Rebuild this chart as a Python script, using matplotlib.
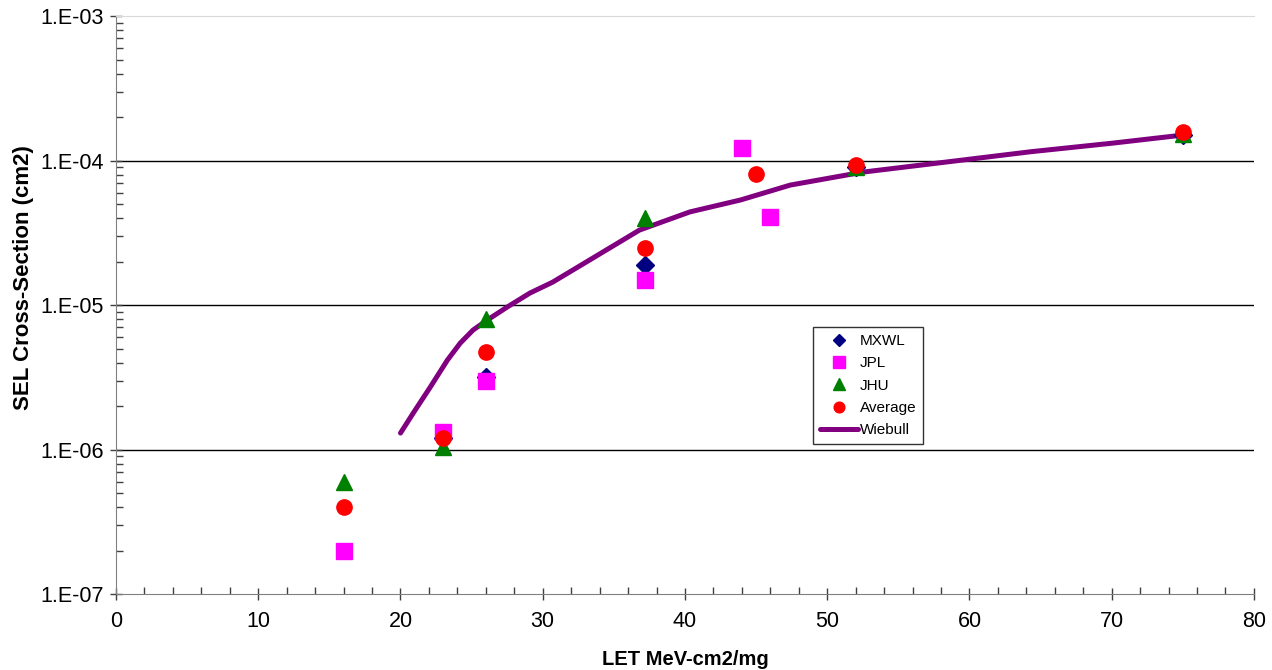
import numpy as np
import matplotlib
matplotlib.use("Agg")
import matplotlib.pyplot as plt
from matplotlib.ticker import FixedLocator, LogLocator, FuncFormatter, NullFormatter

plt.rcParams["font.family"] = ["Liberation Sans", "DejaVu Sans"]

# ---- data ------------------------------------------------------------------
mxwl_let = [23, 26, 37.2, 52, 75]
mxwl_xs = [1.2e-6, 3.2e-6, 1.9e-5, 9.0e-5, 1.5e-4]

jpl_let = [16, 23, 26, 37.2, 44, 46]
jpl_xs = [2.0e-7, 1.32e-6, 3.0e-6, 1.5e-5, 1.22e-4, 4.05e-5]

jhu_let = [16, 23, 26, 37.2, 52, 75]
jhu_xs = [5.95e-7, 1.04e-6, 8.0e-6, 4.0e-5, 9.0e-5, 1.52e-4]

avg_let = [16, 23, 26, 37.2, 45, 52, 75]
avg_xs = [4.0e-7, 1.2e-6, 4.75e-6, 2.48e-5, 8.07e-5, 9.3e-5, 1.57e-4]

wb_let = [20.0, 20.9, 22.1, 23.3, 24.2, 25.1, 26.1, 27.5, 29.1, 30.7,
          33.3, 36.8, 40.35, 43.9, 47.4, 52.5, 58.4, 64.3, 70.1, 75.0]
wb_xs = [1.30e-6, 1.79e-6, 2.71e-6, 4.16e-6, 5.45e-6, 6.71e-6, 7.87e-6,
         9.68e-6, 1.21e-5, 1.44e-5, 2.05e-5, 3.30e-5, 4.41e-5, 5.33e-5,
         6.76e-5, 8.31e-5, 9.77e-5, 1.15e-4, 1.32e-4, 1.50e-4]

# ---- figure ----------------------------------------------------------------
fig = plt.figure(figsize=(12.72, 6.70), dpi=100)
ax = fig.add_axes([0.0912, 0.1134, 0.8946, 0.8627])

ax.plot(wb_let, wb_xs, color="#800080", lw=3.6, solid_capstyle="round",
        solid_joinstyle="round", label="Wiebull", zorder=2)
ax.plot(mxwl_let, mxwl_xs, "D", color="#000080", ms=9, ls="none",
        label="MXWL", zorder=3)
ax.plot(jpl_let, jpl_xs, "s", color="#ff00ff", ms=12, ls="none",
        label="JPL", zorder=4)
ax.plot(jhu_let, jhu_xs, "^", color="#008000", ms=12, ls="none",
        label="JHU", zorder=5)
ax.plot(avg_let, avg_xs, "o", color="#ff0000", ms=11, ls="none",
        label="Average", zorder=6)

ax.set_yscale("log")
ax.set_xlim(0, 80)
ax.set_ylim(1e-7, 1e-3)

# gridlines
for yv in (1e-6, 1e-5, 1e-4):
    ax.axhline(yv, color="black", lw=1.0, zorder=1)

ax.spines["right"].set_visible(False)
ax.spines["top"].set_color("#d9d9d9")
ax.spines["left"].set_color("#808080")
ax.spines["bottom"].set_color("#808080")

ax.xaxis.set_major_locator(FixedLocator(np.arange(0, 81, 10)))
ax.xaxis.set_minor_locator(FixedLocator(np.arange(0, 81, 2)))
ax.yaxis.set_major_locator(LogLocator(base=10, numticks=10))
ax.yaxis.set_minor_locator(LogLocator(base=10, subs=np.arange(2, 10), numticks=20))
ax.yaxis.set_minor_formatter(NullFormatter())
ax.yaxis.set_major_formatter(FuncFormatter(lambda v, p: "1.E%+03d" % int(round(np.log10(v)))))

ax.tick_params(axis="both", which="major", direction="inout", length=9,
               width=1, color="#404040", labelsize=15.5, labelcolor="black")
ax.tick_params(axis="x", which="major", pad=8)
ax.tick_params(axis="y", which="major", pad=4)
ax.tick_params(axis="both", which="minor", direction="in", length=5,
               width=1, color="#404040")

ax.set_xlabel("LET MeV-cm2/mg", fontsize=14.5, fontweight="bold", labelpad=13)
ax.set_ylabel("SEL Cross-Section (cm2)", fontsize=16, fontweight="bold")
ax.yaxis.set_label_coords(-0.072, 0.548)

handles, labels = ax.get_legend_handles_labels()
order = [1, 2, 3, 4, 0]
leg = ax.legend([handles[i] for i in order], [labels[i] for i in order],
                loc="upper left", bbox_to_anchor=(0.6125, 0.462),
                fontsize=11, frameon=True, fancybox=False, edgecolor="black",
                borderpad=0.45, labelspacing=0.55, handlelength=2.5,
                handletextpad=0.1, markerscale=0.7, borderaxespad=0)
leg.get_frame().set_linewidth(1.0)

fig.savefig("out.png", dpi=100)
